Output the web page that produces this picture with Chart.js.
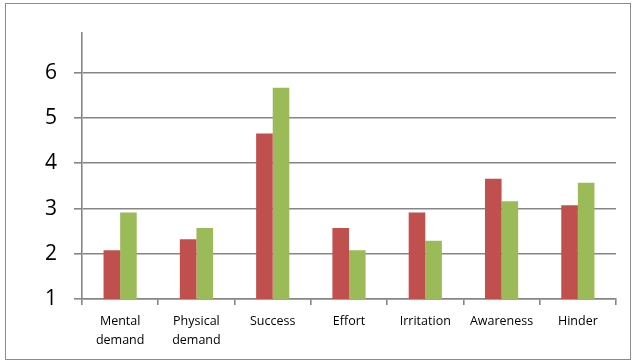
<!DOCTYPE html>
<html>
<head>
<meta charset="utf-8">
<script src="https://cdn.jsdelivr.net/npm/chart.js@4"></script>
<style>
  html, body { margin: 0; padding: 0; background: #fff; }
  #wrap { position: relative; width: 640px; height: 364px; }
  #frame { position: absolute; left: 5px; top: 3px; width: 626px; height: 357px; border: 1px solid #8c8c8c; box-sizing: border-box; }
  canvas { position: absolute; left: 0; top: 0; }
</style>
</head>
<body>
<div id="wrap">
  <div id="frame"></div>
  <canvas id="chart" width="640" height="364"></canvas>
</div>
<script>
const categories = [["Mental", "demand"], ["Physical", "demand"], "Success", "Effort", "Irritation", "Awareness", "Hinder"];
const redValues = [2.08, 2.32, 4.66, 2.57, 2.91, 3.66, 3.07];
const greenValues = [2.91, 2.57, 5.67, 2.08, 2.29, 3.16, 3.57];
const yTicks = [1, 2, 3, 4, 5, 6];

const gridGray = "#868686";

new Chart(document.getElementById("chart"), {
  type: "bar",
  data: {
    labels: categories,
    datasets: [
      { label: "Series 1", data: redValues, backgroundColor: "#C0504D", barPercentage: 1, categoryPercentage: 0.435 },
      { label: "Series 2", data: greenValues, backgroundColor: "#9BBB59", barPercentage: 1, categoryPercentage: 0.435 },
    ],
  },
  options: {
    responsive: false,
    animation: false,
    layout: { padding: { left: 0, top: 33, right: 24, bottom: 0 } },
    plugins: { legend: { display: false }, tooltip: { enabled: false } },
    scales: {
      y: {
        min: 1,
        max: 6.88,
        afterBuildTicks: (scale) => {
          scale.ticks = yTicks.map((v) => ({ value: v }));
        },
        afterFit: (scale) => { scale.width = 82; },
        ticks: {
          color: "#000",
          padding: 17,
          font: { family: "Open Sans", size: 21 },
        },
        grid: { color: gridGray, lineWidth: 1.6, tickLength: 8 },
        border: { color: gridGray, width: 1.6 },
      },
      x: {
        afterFit: (scale) => { scale.height = 65; },
        ticks: {
          color: "#000",
          padding: 7,
          maxRotation: 0,
          autoSkip: false,
          font: { family: "Open Sans", size: 12.5, lineHeight: 1.5 },
        },
        grid: { drawOnChartArea: false, color: gridGray, lineWidth: 1.6, tickLength: 6 },
        border: { color: gridGray, width: 1.6 },
      },
    },
  },
});
</script>
</body>
</html>
